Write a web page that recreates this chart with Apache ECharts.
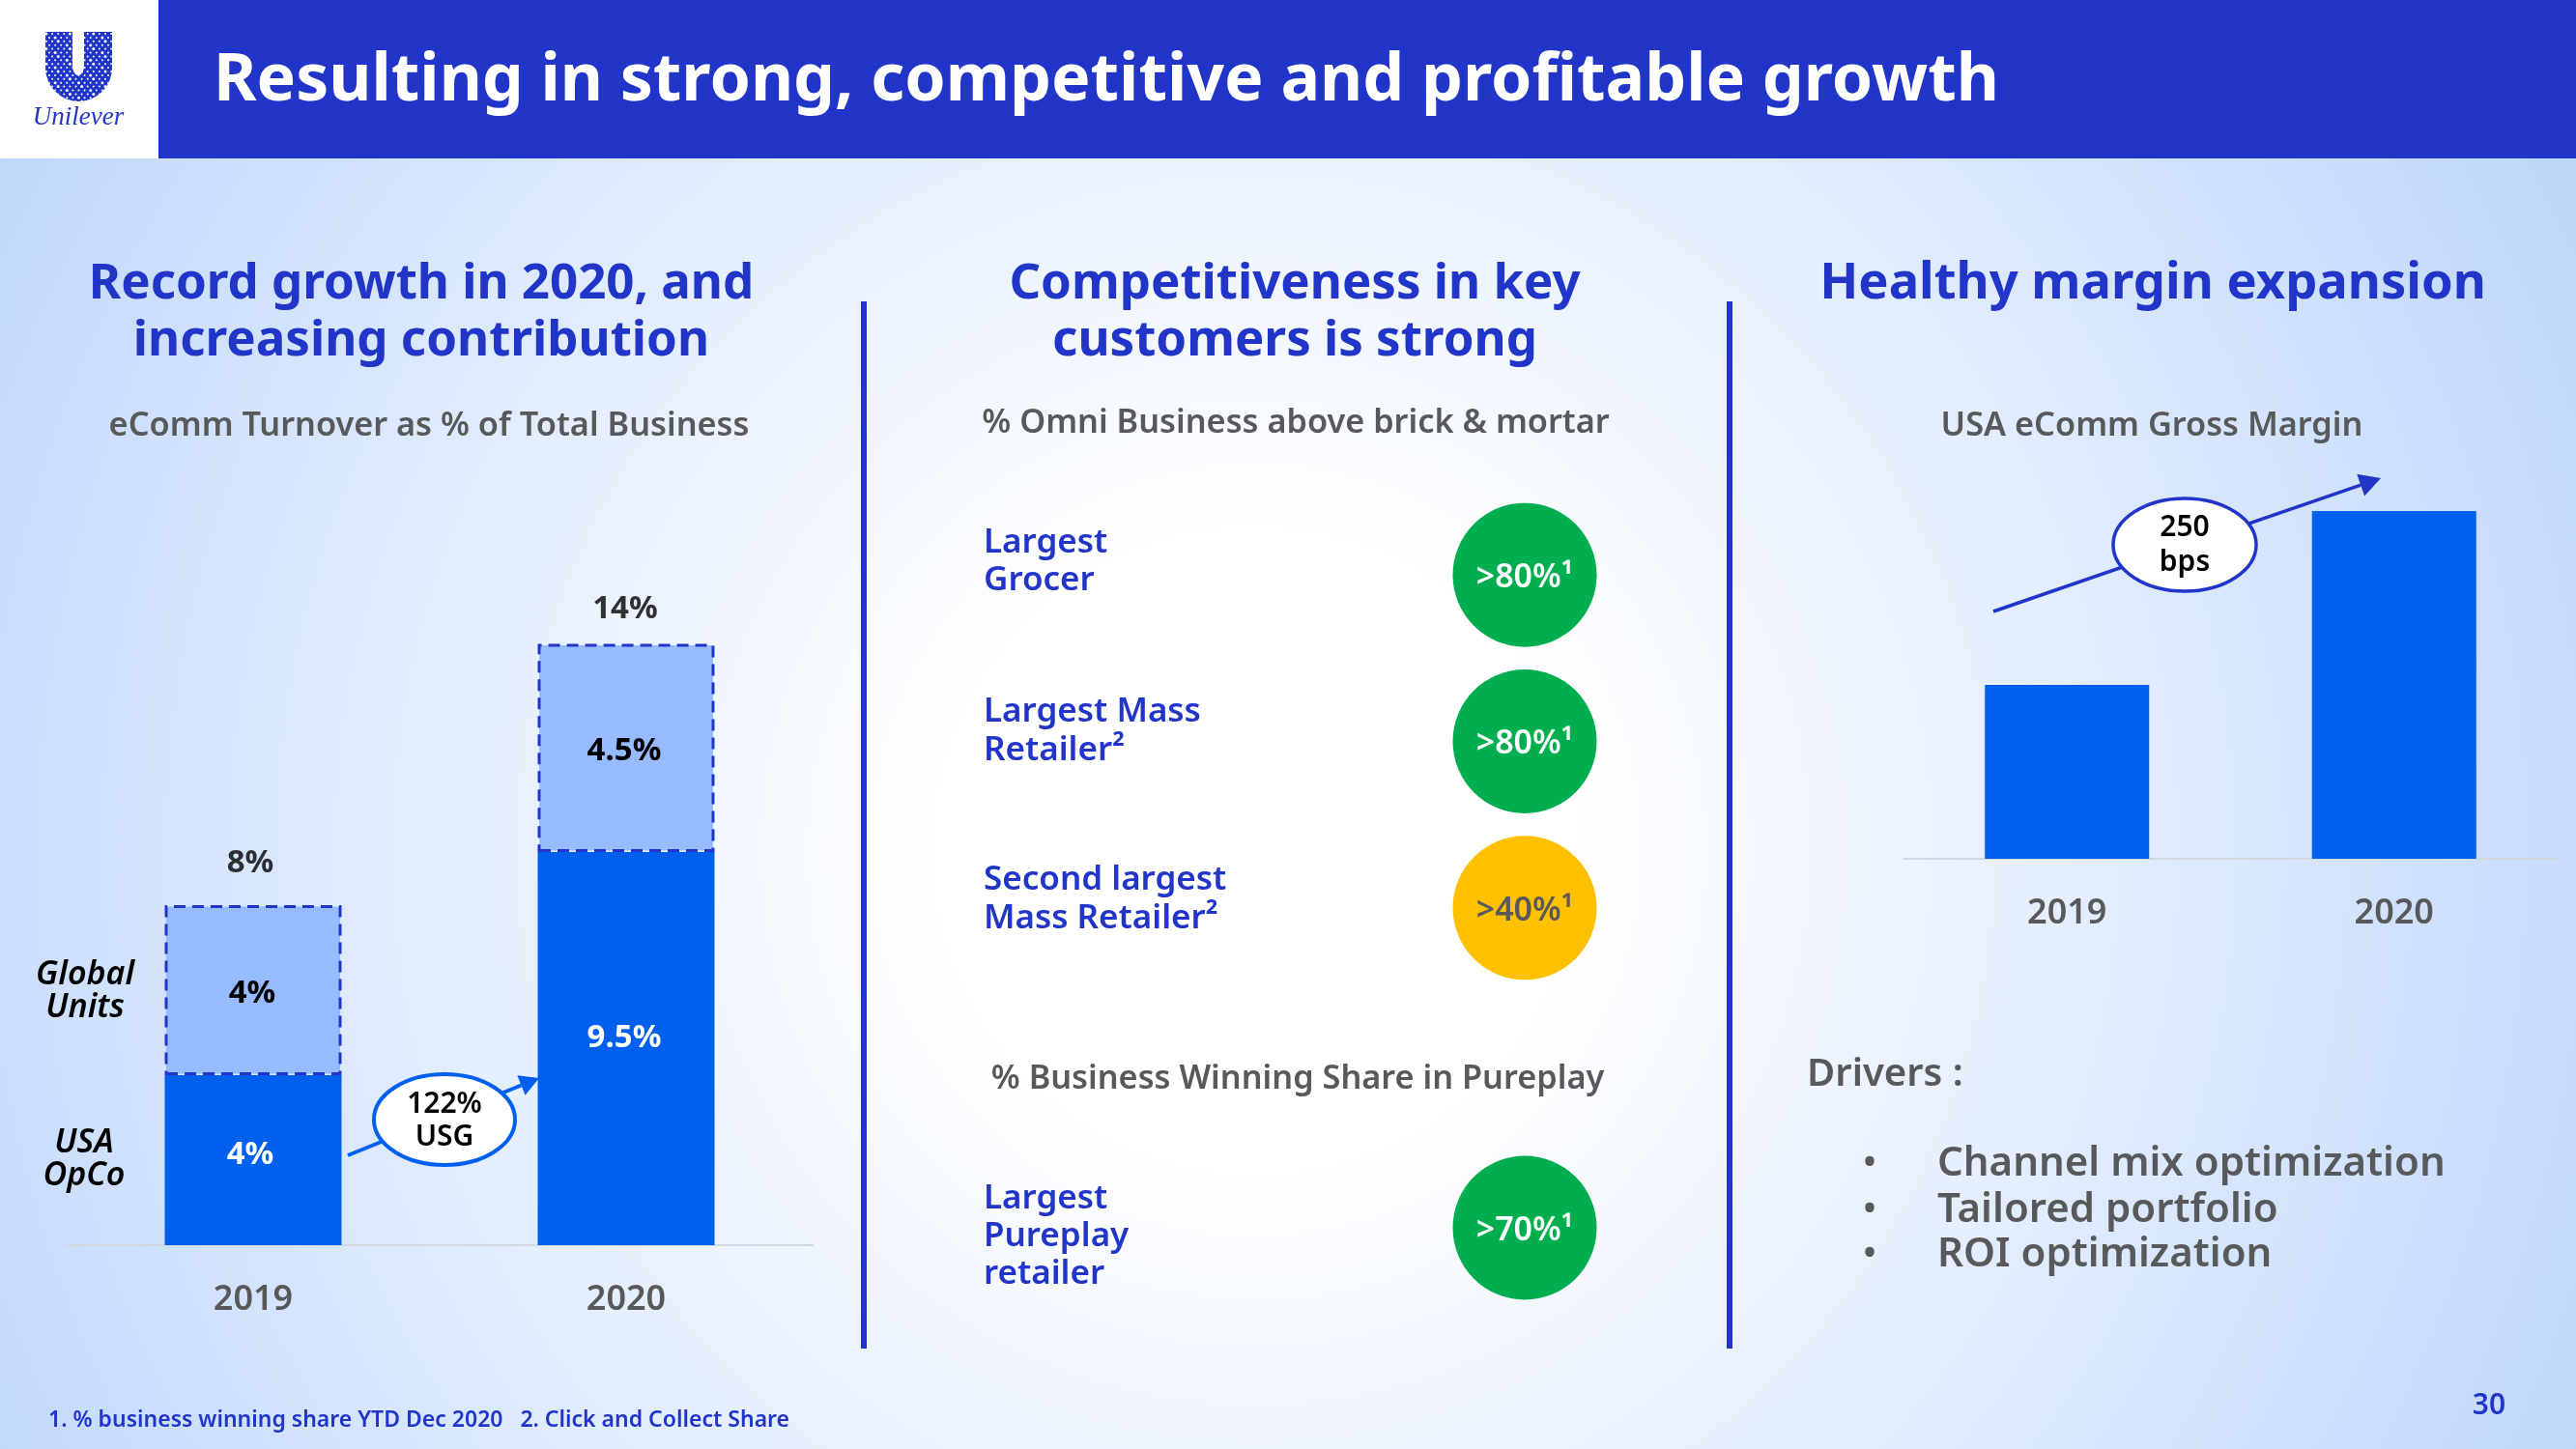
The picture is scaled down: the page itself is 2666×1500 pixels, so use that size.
<!DOCTYPE html>
<html>
<head>
<meta charset="utf-8">
<style>html,body{margin:0;padding:0;background:#fff}#c{width:2666px;height:1500px}</style>
<script src="https://cdn.jsdelivr.net/npm/echarts@6/dist/echarts.min.js"></script>
</head>
<body>
<div id="c"></div>
<script>
// ---- data ----
const years = ['2019', '2020'];
const usaOpCoHeight = [4.0, 9.25];        // bar heights as drawn
const globalUnitsHeight = [4.0, 4.9];
const usaOpCoLabels = ['4%', '9.5%'];
const globalUnitsLabels = ['4%', '4.5%'];
const totalLabels = ['8%', '14%'];
const grossMarginHeight = [2.5, 5.0];     // points above the cropped baseline: +250 bps
const omniRetailers = ['Largest\nGrocer', 'Largest Mass\nRetailer²', 'Second largest\nMass Retailer²'];
const omniShares = ['>80%¹', '>80%¹', '>40%¹'];
const omniRag = ['good', 'good', 'mid'];
const pureplayRetailers = ['Largest\nPureplay\nretailer'];
const pureplayShares = ['>70%¹'];
const pureplayRag = ['good'];
const drivers = ['Channel mix optimization', 'Tailored portfolio', 'ROI optimization'];

// ---- styles ----
const FONT = '"Noto Sans"';
const NAVY = '#2136C8', BLUE = '#0060EE', LIGHT = '#96BBFF', GREY = '#58595B';
const RAG = {good: '#00AE4F', mid: '#FFC000'};

const chart = echarts.init(document.getElementById('c'), null, {renderer: 'canvas'});

function t(x, y, text, o) {
  o = o || {};
  return {type: 'text', z: o.z || 5, x: x, y: y + 3, style: {
    text: text, fill: o.color || GREY, font: (o.italic ? 'italic ' : '') + (o.weight || 600) + ' ' + (o.size || 36) + 'px ' + (o.family || FONT),
    textAlign: o.align || 'center', textVerticalAlign: 'middle', lineHeight: o.lh
  }};
}
function arrow(x1, y1, x2, y2, color, w, head) {
  const a = Math.atan2(y2 - y1, x2 - x1), c = Math.cos(a), s = Math.sin(a);
  const bx = x2 - head * c, by = y2 - head * s, hw = head * 0.55;
  return [
    {type: 'line', z: 8, shape: {x1: x1, y1: y1, x2: bx, y2: by}, style: {stroke: color, lineWidth: w}},
    {type: 'polygon', z: 8, shape: {points: [[x2, y2], [bx - hw * s, by + hw * c], [bx + hw * s, by - hw * c]]}, style: {fill: color}}
  ];
}
function bubble(cx, cy, rx, ry, color, w) {
  return {type: 'ellipse', z: 9, shape: {cx: cx, cy: cy, rx: rx, ry: ry}, style: {fill: '#fff', stroke: color, lineWidth: w}};
}
const SUB = 34.3, HEAD = 51;

// ---- slide furniture ----
const uPoints = [[47, 33], [75, 33], [75, 68]];
for (let k = 0; k <= 12; k++) { const a = Math.PI * k / 12; uPoints.push([81 - 6 * Math.cos(a), 68 + 10 * Math.sin(a)]); }
uPoints.push([87, 68], [87, 33], [116, 33], [116, 70]);
for (let k = 0; k <= 16; k++) { const a = Math.PI * k / 16; uPoints.push([81.5 + 34.5 * Math.cos(a), 70 + 35 * Math.sin(a)]); }
const logoDots = [];
for (let i = 0; i < 12; i++) for (let j = 0; j < 19; j++) {
  logoDots.push({type: 'circle', z: 4, shape: {cx: 48 + i * 6.1 + (j % 2) * 3, cy: 35 + j * 3.9, r: (i * 3 + j * 5) % 4 === 0 ? 1.5 : 1}, style: {fill: '#fff'}});
}
const furniture = [
  {type: 'rect', z: -10, shape: {x: 0, y: 0, width: 2666, height: 1500},
   style: {fill: new echarts.graphic.RadialGradient(1300, 880, 1500, [
     {offset: 0, color: '#ffffff'}, {offset: 0.22, color: '#ffffff'}, {offset: 1, color: '#c0d7fb'}], true)}},
  {type: 'rect', z: 1, shape: {x: 164, y: 0, width: 2502, height: 164}, style: {fill: NAVY}},
  {type: 'rect', z: 1, shape: {x: 0, y: 0, width: 164, height: 164}, style: {fill: '#fff'}},
  {type: 'polygon', z: 3, shape: {points: uPoints}, style: {fill: NAVY}}
].concat(logoDots).concat([
  t(81, 119, 'Unilever', {color: NAVY, size: 27, italic: true, weight: 400, family: '"Liberation Serif"'}),
  t(221, 82, 'Resulting in strong, competitive and profitable growth', {color: '#fff', size: 68, weight: 700, align: 'left'}),
  {type: 'rect', z: 2, shape: {x: 891, y: 312, width: 6, height: 1084}, style: {fill: NAVY}},
  {type: 'rect', z: 2, shape: {x: 1787, y: 312, width: 6, height: 1084}, style: {fill: NAVY}},

  t(436, 291, 'Record growth in 2020, and', {color: NAVY, size: HEAD, weight: 700}),
  t(436, 350, 'increasing contribution', {color: NAVY, size: HEAD, weight: 700}),
  t(444, 438, 'eComm Turnover as % of Total Business', {size: SUB}),
  t(88, 1006, 'Global', {color: '#000', size: 34, italic: true}),
  t(88, 1040, 'Units', {color: '#000', size: 34, italic: true}),
  t(87, 1180, 'USA', {color: '#000', size: 34, italic: true}),
  t(87, 1214, 'OpCo', {color: '#000', size: 34, italic: true}),

  t(1340, 291, 'Competitiveness in key', {color: NAVY, size: HEAD, weight: 700}),
  t(1340, 350, 'customers is strong', {color: NAVY, size: HEAD, weight: 700}),
  t(1341, 435, '% Omni Business above brick & mortar', {size: SUB}),
  t(1343, 1114, '% Business Winning Share in Pureplay', {size: SUB}),

  t(2228, 291, 'Healthy margin expansion', {color: NAVY, size: 52.5, weight: 700}),
  t(2227, 438, 'USA eComm Gross Margin', {size: SUB}),
  t(1870, 1110, 'Drivers :', {size: 40, align: 'left'}),

  t(50, 1467, '1. % business winning share YTD Dec 2020   2. Click and Collect Share', {color: NAVY, size: 23, align: 'left'}),
  t(2576, 1452, '30', {color: NAVY, size: 30}),

  // growth callouts
  bubble(460, 1159, 73, 47, BLUE, 4),
  t(460, 1140, '122%', {color: '#000', size: 30, z: 10}),
  t(460, 1174, 'USG', {color: '#000', size: 30, z: 10}),
  bubble(2261, 564, 74, 48, NAVY, 3.5),
  t(2261, 543, '250', {color: '#000', size: 30, z: 10}),
  t(2261, 579, 'bps', {color: '#000', size: 30, z: 10})
]).concat(arrow(360, 1196, 558, 1116, BLUE, 4, 20)).concat(arrow(2063, 633, 2464, 495, NAVY, 3.5, 22));
drivers.forEach(function (d, i) {
  const y = [1202, 1250, 1296][i];
  furniture.push(t(1935, y, '•', {size: 36}));
  furniture.push(t(2005, y, d, {size: 42, align: 'left'}));
});
// retailer names beside the circles
[[559, 598], [734, 774], [908, 948]].forEach(function (ys, i) {
  omniRetailers[i].split('\n').forEach(function (line, j) {
    furniture.push(t(1018, ys[j], line, {color: NAVY, size: 35, align: 'left'}));
  });
});
pureplayRetailers[0].split('\n').forEach(function (line, j) {
  furniture.push(t(1018, [1238, 1277, 1316][j], line, {color: NAVY, size: 35, align: 'left'}));
});

// ---- axes ----
const yearAxis = function (g) {
  return {type: 'category', gridIndex: g, data: years, axisTick: {show: false},
    axisLine: {lineStyle: {color: '#D2D6DE', width: 2}},
    axisLabel: {color: GREY, fontFamily: FONT, fontWeight: 600, fontSize: 36, margin: 39}};
};
const hiddenVal = function (g, max) {
  return {type: 'value', gridIndex: g, min: 0, max: max, show: false, splitLine: {show: false}};
};
const hiddenOne = function (g) {
  return {type: 'category', gridIndex: g, data: [''], show: false};
};
const rowAxis = function (g, rows) {
  return {type: 'category', gridIndex: g, data: rows, inverse: true, show: false};
};
const barLabel = function (size, color) {
  return {show: true, position: 'inside', fontFamily: FONT, fontWeight: 700, fontSize: size, color: color};
};
const circleSeries = function (g, rows, shares, rag) {
  return {type: 'scatter', xAxisIndex: g, yAxisIndex: g, symbol: 'circle', symbolSize: 149, silent: true,
    data: rows.map(function (r, i) {
      return {value: [0, i], itemStyle: {color: RAG[rag[i]], opacity: 1}, label: {
        show: true, position: 'inside', formatter: shares[i], fontFamily: FONT, fontWeight: 600, fontSize: 34, offset: [0, 3],
        color: rag[i] === 'mid' ? GREY : '#fff'}};
    })};
};

chart.setOption({
  animation: false,
  graphic: {elements: furniture},
  grid: [
    {left: 69, width: 772, top: 629, height: 660},
    {left: 1970, width: 677, top: 169, height: 720},
    {left: 1018, width: 1120, top: 509, height: 517},
    {left: 1018, width: 1120, top: 1185, height: 172}
  ],
  xAxis: [yearAxis(0), yearAxis(1), hiddenOne(2), hiddenOne(3)],
  yAxis: [hiddenVal(0, 15), hiddenVal(1, 10), rowAxis(2, omniRetailers), rowAxis(3, pureplayRetailers)],
  series: [
    {name: 'USA OpCo', type: 'bar', stack: 'a', barWidth: 183, xAxisIndex: 0, yAxisIndex: 0, silent: true,
     itemStyle: {color: BLUE},
     data: usaOpCoHeight.map(function (v, i) {
       return {value: v, label: Object.assign(barLabel(33, '#fff'), {formatter: usaOpCoLabels[i], offset: [[-3, -5], [-2, -11]][i]})};
     })},
    {name: 'Global Units', type: 'bar', stack: 'a', barWidth: 183, xAxisIndex: 0, yAxisIndex: 0, silent: true,
     itemStyle: {color: LIGHT, borderColor: NAVY, borderWidth: 3, borderType: [12, 7]},
     data: globalUnitsHeight.map(function (v, i) {
       return {value: v, label: Object.assign(barLabel(33, '#000'), {formatter: globalUnitsLabels[i], offset: [[-1, 4], [-2, 3]][i]})};
     })},
    {name: 'Total', type: 'scatter', xAxisIndex: 0, yAxisIndex: 0, silent: true, symbolSize: 1, itemStyle: {color: 'transparent'},
     data: usaOpCoHeight.map(function (v, i) {
       return {value: [i, v + globalUnitsHeight[i]], label: {show: true, position: 'top', formatter: totalLabels[i],
         fontFamily: FONT, fontWeight: 700, fontSize: 33, color: '#000', offset: [[-3, -21], [-1, -14]][i]}};
     })},
    {name: 'USA eComm Gross Margin', type: 'bar', barWidth: 170, xAxisIndex: 1, yAxisIndex: 1, silent: true,
     itemStyle: {color: BLUE}, data: grossMarginHeight},
    circleSeries(2, omniRetailers, omniShares, omniRag),
    circleSeries(3, pureplayRetailers, pureplayShares, pureplayRag)
  ]
});
</script>
</body>
</html>
